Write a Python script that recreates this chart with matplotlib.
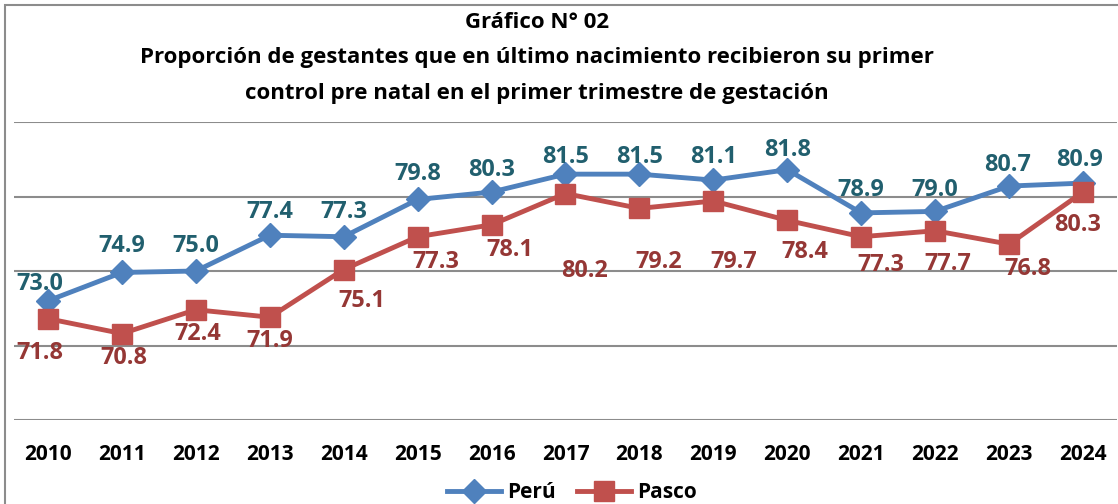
import matplotlib
matplotlib.use('Agg')
import matplotlib.pyplot as plt
from matplotlib.patches import Rectangle

plt.rcParams['font.family'] = ['Open Sans', 'DejaVu Sans']

years = ['2010', '2011', '2012', '2013', '2014', '2015', '2016', '2017',
         '2018', '2019', '2020', '2021', '2022', '2023', '2024']
peru = [73.0, 74.9, 75.0, 77.4, 77.3, 79.8, 80.3, 81.5, 81.5, 81.1, 81.8, 78.9, 79.0, 80.7, 80.9]
pasco = [71.8, 70.8, 72.4, 71.9, 75.1, 77.3, 78.1, 80.2, 79.2, 79.7, 78.4, 77.3, 77.7, 76.8, 80.3]

# label offsets in pixels (dx, dy)
peru_off = [(-8, 17), (0, 26), (0, 25), (0, 23), (0, 25), (0, 25), (0, 22), (0, 17),
            (0, 17), (0, 23), (0, 20), (0, 23), (0, 21), (-2, 21), (-3, 23)]
pasco_off = [(-8, -34), (2, -24), (2, -24), (0, -24), (18, -31), (18, -25), (18, -25), (19, -77),
             (19, -54), (20, -61), (18, -32), (20, -28), (13, -33), (19, -25), (-5, -33)]

W, H = 1118, 504
fig = plt.figure(figsize=(W / 100, H / 100), dpi=100)

# outer frame
fig.patches.append(Rectangle((5 / W, -0.1), 1.2, 1 - 5 / H + 0.1, transform=fig.transFigure,
                             fill=False, edgecolor='#8c8c8c', linewidth=1.5))

ax = fig.add_axes([14 / W, 1 - 420 / H, (1117 - 14) / W, (420 - 122) / H])
x = list(range(len(years)))
unit = (1083 - 48) / 14
ax.set_xlim(-34 / unit, 14 + 34 / unit)
ax.set_ylim(65, 85)
ax.set_yticks([65, 70, 75, 80, 85])
ax.yaxis.grid(True, color='#8c8c8c', linewidth=1.5)
ax.set_axisbelow(True)
for s in ax.spines.values():
    s.set_visible(False)
ax.tick_params(axis='y', left=False, labelleft=False)
ax.tick_params(axis='x', length=0, pad=17)
ax.set_xticks(x)
ax.set_xticklabels(years, fontsize=15, fontweight='bold', color='black')

ax.plot(x, peru, color='#4f81bd', linewidth=3.5, marker='D', markersize=12,
        markerfacecolor='#4f81bd', markeredgecolor='#4f81bd', label='Perú', zorder=3)
ax.plot(x, pasco, color='#c0504d', linewidth=3.5, marker='s', markersize=14,
        markerfacecolor='#c0504d', markeredgecolor='#c0504d', label='Pasco', zorder=4)

for i in x:
    ax.annotate(f'{peru[i]:.1f}', (i, peru[i]), xytext=peru_off[i], textcoords='offset pixels',
                ha='center', va='center', fontsize=16.8, fontweight='bold', color='#215f6e',
                annotation_clip=False, zorder=5)
    ax.annotate(f'{pasco[i]:.1f}', (i, pasco[i]), xytext=pasco_off[i], textcoords='offset pixels',
                ha='center', va='center', fontsize=16.8, fontweight='bold', color='#953735',
                annotation_clip=False, zorder=5)

title = ['Gráfico N° 02',
         'Proporción de gestantes que en último nacimiento recibieron su primer',
         'control pre natal en el primer trimestre de gestación']
for line, yy in zip(title, [22, 58, 93]):
    fig.text(537 / W, 1 - yy / H, line, ha='center', va='center', fontsize=16,
             fontweight='bold', color='black')

leg = fig.legend(loc='center', bbox_to_anchor=(572 / W, 1 - 493 / H), ncol=2, frameon=False,
                 prop={'size': 15, 'weight': 'bold'}, handlelength=2.6, columnspacing=1.0,
                 handletextpad=0.3, borderaxespad=0)

fig.savefig('out.png', dpi=100)
